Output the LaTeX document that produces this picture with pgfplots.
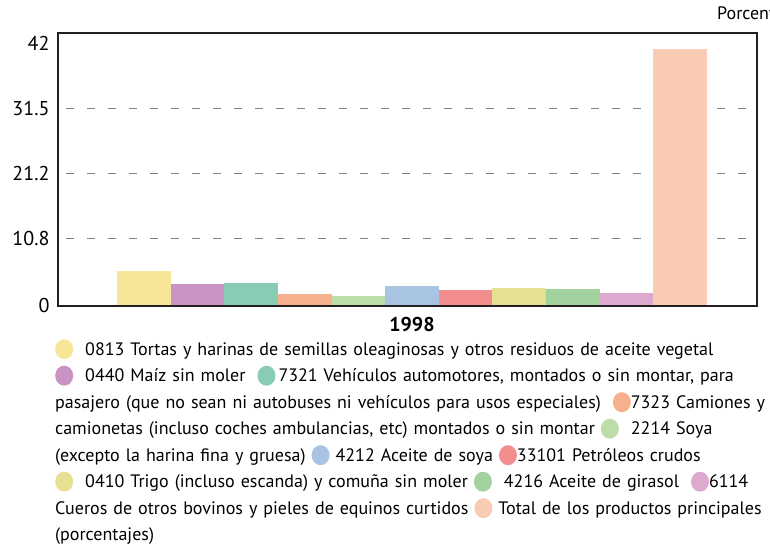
\documentclass[border=0pt]{standalone}
\usepackage{fontspec}
\setmainfont{PT Sans}
\usepackage{pgfplots}
\pgfplotsset{compat=1.18}
\definecolor{cA}{HTML}{F7E698}
\definecolor{cB}{HTML}{C993C3}
\definecolor{cC}{HTML}{8ACBB5}
\definecolor{cD}{HTML}{F7B08E}
\definecolor{cE}{HTML}{BCDDA8}
\definecolor{cF}{HTML}{A9C4E2}
\definecolor{cG}{HTML}{F38E8E}
\definecolor{cH}{HTML}{E6E093}
\definecolor{cI}{HTML}{A2D39E}
\definecolor{cJ}{HTML}{DDA9CE}
\definecolor{cK}{HTML}{F9CBB3}
\definecolor{frame}{HTML}{231F20}
% legend dot
\newcommand{\ldot}[1]{\tikz[baseline=-6pt]\fill[#1] (0,0) ellipse (9pt and 10pt);}

\begin{document}
\begin{tikzpicture}[x=1pt,y=1pt]
\path[use as bounding box] (0,0) rectangle (770,546);
\begin{axis}[
  at={(58pt,240pt)}, anchor=south west,
  width=699pt, height=273pt, scale only axis,
  ybar=0pt, bar width=53.6pt,
  xmin=-0.5064, xmax=0.4936,
  ymin=0, ymax=43.6,
  xtick={0}, xticklabels={\textbf{1998}},
  x tick label style={font=\fontsize{20}{20}\selectfont, yshift=-8pt},
  ytick={10.8,21.2,31.5},
  extra y ticks={0,42},
  extra y tick style={grid=none},
  y tick label style={font=\fontsize{20}{20}\selectfont, xshift=-5pt},
  /pgf/number format/assume math mode=true,
  ymajorgrids,
  grid style={dash pattern=on 8pt off 13pt, dash phase=-8pt, color=black!50, line width=1.2pt},
  major tick length=0pt,
  axis line style={frame, line width=2.5pt},
  every axis plot/.append style={draw=none},
]
\addplot[fill=cA] coordinates {(0,5.6)};
\addplot[fill=cB] coordinates {(0,3.5)};
\addplot[fill=cC] coordinates {(0,3.7)};
\addplot[fill=cD] coordinates {(0,1.9)};
\addplot[fill=cE] coordinates {(0,1.6)};
\addplot[fill=cF] coordinates {(0,3.2)};
\addplot[fill=cG] coordinates {(0,2.6)};
\addplot[fill=cH] coordinates {(0,2.9)};
\addplot[fill=cI] coordinates {(0,2.7)};
\addplot[fill=cJ] coordinates {(0,2.1)};
\addplot[fill=cK] coordinates {(0,41.0)};
% frame again, over the bars
\draw[frame, line width=2.5pt] (rel axis cs:0,0) rectangle (rel axis cs:1,1);
\end{axis}
\node[anchor=west, inner sep=0pt, font=\fontsize{18}{18}\selectfont] at (717,531) {Porcentaje};
\node[anchor=north west, inner sep=0pt, text width=780pt, align=left,
      font=\fontsize{18}{26.5}\selectfont] at (55,207) {%
\ldot{cA}\ \ 0813 Tortas y harinas de semillas oleaginosas y otros residuos de aceite vegetal\\
\ldot{cB}\ \ 0440 Maíz sin moler \ \ldot{cC}\,7321 Vehículos automotores, montados o sin montar, para\\
pasajero (que no sean ni autobuses ni vehículos para usos especiales) \ \ldot{cD}7323 Camiones y\\
camionetas (incluso coches ambulancias, etc) montados o sin montar \ldot{cE} \ 2214 Soya\\
(excepto la harina fina y gruesa) \ldot{cF} 4212 Aceite de soya \ldot{cG}33101 Petróleos crudos\\
\ldot{cH} \ 0410 Trigo (incluso escanda) y comuña sin moler \ldot{cI} \ 4216 Aceite de girasol \ \ldot{cJ}6114\\
Cueros de otros bovinos y pieles de equinos curtidos \ldot{cK} Total de los productos principales\\
(porcentajes)};
\end{tikzpicture}
\end{document}
